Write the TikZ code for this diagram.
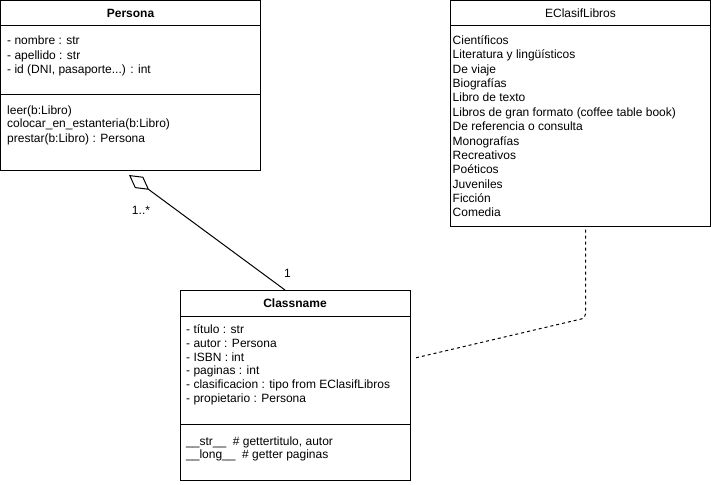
\documentclass[tikz,border=0pt]{standalone}
\usepackage{fontspec}
\setmainfont{Liberation Sans}
\usetikzlibrary{arrows.meta,calc}
\newcommand\mytdots{...}
\begin{document}
\begin{tikzpicture}[x=1pt,y=-1pt,
  comp/.style={draw=black,line width=1pt,rectangle,inner sep=0pt,outer sep=0pt,anchor=north west},
  txt/.style={anchor=base west,inner sep=0pt,font=\fontsize{12}{14.4}\selectfont},
  hdr/.style={font=\fontsize{12}{14.4}\selectfont\bfseries},
  lbl/.style={inner sep=0pt,font=\fontsize{12}{14.4}\selectfont}]
\useasboundingbox (0,0) rectangle (711,484);
% Persona
\node[comp,minimum width=260pt,minimum height=25pt,hdr] (pHead) at (0.5,1) {Persona};
\node[comp,minimum width=260pt,minimum height=68.3pt] (pAttr) at (0.5,26) {};
\node[comp,minimum width=260pt,minimum height=75.7pt] (pOps) at (0.5,94.3) {};
\foreach \t [count=\i] in {{- nombre : str},{- apellido : str},{- id (DNI, pasaporte\mytdots) : int}}
  \node[txt] (pa\i) at (7,{45+14.2*(\i-1)}) {\t};
\foreach \t [count=\i] in {{leer(b:Libro)},{colocar\_en\_estanteria(b:Libro)},{prestar(b:Libro) : Persona}}
  \node[txt] (po\i) at (7,{114+14*(\i-1)}) {\t};
% EClasifLibros
\node[comp,minimum width=259.6pt,minimum height=25pt,lbl] (eHead) at (450.7,1) {EClasifLibros};
\node[comp,minimum width=259.6pt,minimum height=200.7pt] (eBody) at (450.7,26) {};
\foreach \t [count=\i] in {Científicos,Literatura y lingüísticos,De viaje,Biografías,Libro de texto,Libros de gran formato (coffee table book),De referencia o consulta,Monografías,Recreativos,Poéticos,Juveniles,Ficción,Comedia}
  \node[txt] (e\i) at (452.5,{44.5+14.37*(\i-1)}) {\t};
% Classname
\node[comp,minimum width=230pt,minimum height=26pt,hdr] (cHead) at (180,290) {Classname};
\node[comp,minimum width=230pt,minimum height=108pt] (cAttr) at (180,316) {};
\node[comp,minimum width=230pt,minimum height=56pt] (cOps) at (180,424) {};
\foreach \t [count=\i] in {{- título : str},{- autor : Persona},{- ISBN : int},{- paginas : int},{- clasificacion : tipo from EClasifLibros},{- propietario : Persona}}
  \node[txt] (ca\i) at (186,{333.5+13.8*(\i-1)}) {\t};
\foreach \t [count=\i] in {{\_\_str\_\_\ \ \# gettertitulo, autor},{\_\_long\_\_\ \ \# getter paginas}}
  \node[txt] (co\i) at (186,{445+13.5*(\i-1)}) {\t};
% aggregation
\coordinate (aggStart) at ($(pOps.south west)+(128.5,5)$);
\coordinate (aggEnd) at ($(cHead.north west)+(105,0)$);
\draw[line width=1pt,{Diamond[open,length=25pt,width=14pt,line width=1pt]}-] (aggStart) -- (aggEnd);
\node[lbl] (mStar) at (141,210.5) {1..*};
\node[lbl] (mOne) at (287.5,273.5) {1};
% dependency (dashed)
\coordinate (dStart) at ($(eBody.south west)+(134.8,3)$);
\coordinate (dCorner) at (585.5,318);
\coordinate (dEnd) at ($(cAttr.north east)+(5,42)$);
\draw[line width=1pt,dash pattern=on 3pt off 3pt,rounded corners=4pt] (dStart) -- (dCorner) -- (dEnd);
\end{tikzpicture}
\end{document}
